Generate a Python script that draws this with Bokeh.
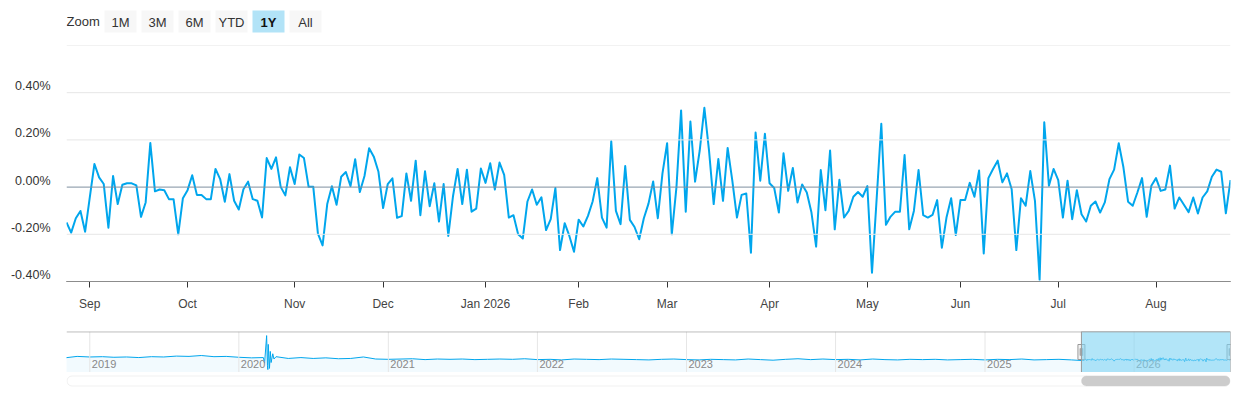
import numpy as np
import pandas as pd
from bokeh.plotting import figure
from bokeh.layouts import column
from bokeh.models import (Range1d, FixedTicker, Span, Label, BoxAnnotation,
                          ColumnDataSource, LinearAxis, PrintfTickFormatter)
from bokeh.core.properties import value
from bokeh.embed import file_html
from bokeh.resources import INLINE

FONT = "Liberation Sans"
LINE_COLOR = "#00a6ed"

# ------------------------------------------------------------------ data
month_labels = ["Sep", "Oct", "Nov", "Dec", "Jan 2026", "Feb", "Mar", "Apr",
                "May", "Jun", "Jul", "Aug"]
# trading days per month: late Aug 2025, Sep ... Jul, Aug 2026
points_per_month = [5, 21, 23, 19, 22, 20, 19, 22, 21, 20, 21, 21, 17]

daily_change = [
    -0.150, -0.193, -0.132, -0.101, -0.189, -0.044, 0.098, 0.041, 0.013, -0.172,
    0.047, -0.072, 0.010, 0.016, 0.016, 0.007, -0.126, -0.065, 0.187, -0.018,
    -0.010, -0.013, -0.051, -0.052, -0.200, -0.047, -0.013, 0.050, -0.033, -0.033,
    -0.051, -0.051, 0.077, 0.034, -0.062, 0.055, -0.058, -0.095, -0.009, 0.023,
    -0.051, -0.058,
    -0.129, 0.123, 0.077, 0.126, 0.001, -0.035, 0.084, 0.013, 0.138, 0.123,
    0.001, 0.001, -0.197, -0.247, -0.072, 0.004, -0.075, 0.044, 0.064, 0.004,
    0.118, -0.021, 0.047, 0.165, 0.129, 0.065, -0.089, 0.013, 0.037, -0.130,
    -0.123, 0.058, -0.058, 0.112, -0.119, 0.067, -0.081, 0.016, -0.146, 0.013,
    -0.207, -0.040,
    0.077, -0.072, 0.074, -0.104, -0.091, 0.079, 0.018, 0.101, -0.010, 0.104,
    0.052, -0.129, -0.119, -0.200, -0.218, -0.061, -0.010, -0.075, -0.043, -0.182,
    -0.136, -0.004, -0.267, -0.153, -0.207, -0.274, -0.138, -0.167, -0.122, -0.061,
    0.038, -0.129, -0.172, 0.194, -0.101, -0.157, 0.089, -0.139, -0.169, -0.221,
    -0.132, -0.070,
    0.024, -0.132, 0.058, 0.186, -0.200, -0.001, 0.325, -0.104, 0.278, 0.023,
    0.155, 0.336, 0.155, -0.072, 0.119, -0.058, 0.166, 0.027, -0.129, -0.033,
    -0.027, -0.278, 0.231, 0.027, 0.226, 0.016, -0.004, -0.108, 0.143, -0.016,
    0.081, -0.065, 0.011, -0.023, -0.108, -0.252, 0.072, -0.098, 0.155, -0.179,
    0.031, -0.129,
    -0.101, -0.041, -0.021, -0.041, 0.004, -0.363, -0.050, 0.268, -0.160, -0.125,
    -0.104, -0.104, 0.136, -0.179, -0.101, 0.072, -0.119, -0.129, -0.118, -0.055,
    -0.257, -0.129, -0.047, -0.203, -0.055, -0.055, 0.018, -0.041, 0.070, -0.281,
    0.038, 0.077, 0.112, 0.020, 0.058, -0.009, -0.267, -0.047, -0.079, 0.068,
    -0.058, -0.392,
    0.275, 0.006, 0.077, 0.030, -0.129, 0.027, -0.136, -0.013, -0.115, -0.146,
    -0.079, -0.061, -0.108, -0.065, 0.034, 0.074, 0.186, 0.084, -0.062, -0.079,
    -0.023, 0.038, -0.126, 0.006, 0.038, -0.016, -0.010, 0.091, -0.091, -0.044,
    -0.075, -0.106, -0.044, -0.112, -0.044, -0.018, 0.044, 0.074, 0.065, -0.111,
    0.030,
]

y_tick_values = [-0.4, -0.2, 0.0, 0.2, 0.4]
y_grid_values = [-0.4, -0.2, 0.2, 0.4, 0.6]
y_min, y_max = -0.4, 0.6

zoom_buttons = ["1M", "3M", "6M", "YTD", "1Y", "All"]
selected_button = "1Y"

# navigator (whole history): monthly readings Nov 2018 .. Aug 2025
nav_first_month = "2018-11-01"
nav_monthly_values = [
    0.30, 0.55,
    0.45, 0.50, 0.40, 0.45, 0.35, 0.50, 0.45, 0.60, 0.55, 0.70, 0.50, 0.55,
    0.40, 0.30, 0.35, 0.50, 0.20, 0.35, 0.20, 0.30, 0.15, 0.20, 0.45, 0.10,
    0.05, 0.10, 0.15, 0.00, 0.10, 0.05, 0.10, 0.00, 0.05, 0.10, 0.05, 0.15,
    0.00, 0.05, -0.05, 0.10, 0.05, 0.00, 0.10, 0.05, 0.00, -0.05, 0.05, 0.10,
    0.00, -0.05, 0.05, 0.00, -0.05, 0.10, 0.00, -0.10, 0.05, 0.15, 0.00, 0.10,
    0.00, 0.05, -0.05, 0.10, 0.00, -0.05, 0.05, 0.00, 0.05, -0.05, 0.00, 0.05,
    -0.05, 0.05, 0.00, 0.10, -0.05, 0.00, 0.05, -0.05,
]
spike_dates = ["2020-03-04", "2020-03-09", "2020-03-11", "2020-03-12", "2020-03-13",
               "2020-03-16", "2020-03-18", "2020-03-20", "2020-03-24", "2020-03-27"]
spike_values = [-0.6, 4.1, -1.0, -1.7, 2.6, -1.5, 1.4, -0.5, 1.0, 0.1]
nav_start, nav_end = "2018-11-05", "2026-08-25"
selection_start, selection_end = "2025-08-25", "2026-08-25"
nav_years = [2019, 2020, 2021, 2022, 2023, 2024, 2025, 2026]
nav_y_min, nav_y_max = -2.2, 4.8

# ------------------------------------------------------------------ layout constants
W = 1240
FRAME_L, FRAME_R = 66, 10          # frame spans page x 66 .. 1230
PX0, PX1 = FRAME_L, W - FRAME_R
PLOT_W = PX1 - PX0


def ms(d):
    return pd.Timestamp(d).value / 1e6


def styled(f):
    f.outline_line_color = None
    f.background_fill_color = "white"
    f.border_fill_color = "white"
    f.xgrid.visible = False
    f.ygrid.visible = False
    return f


def base_fig(height, x_range, y_range, top=0, bottom=0):
    f = figure(width=W, height=height, x_range=x_range, y_range=y_range,
               toolbar_location=None, output_backend="svg",
               x_axis_location=None, y_axis_location=None,
               min_border_left=FRAME_L, min_border_right=FRAME_R,
               min_border_top=top, min_border_bottom=bottom)
    return styled(f)


# ------------------------------------------------------------------ range selector row
# x in page pixels (frame = 66..1230), y in page pixels (0 at top)
pa = base_fig(40, Range1d(PX0, PX1), Range1d(40, 0))
pa.text(x=[PX0], y=[21], text=["Zoom"], text_font=value(FONT),
        text_font_size="13px", text_color="#333333", text_align="left",
        text_baseline="middle")
bx, btxt, sx, stxt = [], [], [], []
for i, lab in enumerate(zoom_buttons):
    left = 104 + 37 * i
    sel = lab == selected_button
    pa.quad(left=[left], right=[left + 32], top=[10], bottom=[32],
            fill_color="#b2e3f7" if sel else "#f7f7f7", line_color=None)
    if sel:
        sx.append(left + 16); stxt.append(lab)
    else:
        bx.append(left + 16); btxt.append(lab)
pa.text(x=bx, y=[21.5] * len(bx), text=btxt, text_font=value(FONT),
        text_font_size="13px", text_color="#333333", text_align="center",
        text_baseline="middle")
pa.text(x=sx, y=[21.5] * len(sx), text=stxt, text_font=value(FONT),
        text_font_size="13px", text_font_style="bold", text_color="#111111",
        text_align="center", text_baseline="middle")

# ------------------------------------------------------------------ main chart
N = len(daily_change)
idx = np.arange(N)
tick_idx = [int(v) for v in np.cumsum(points_per_month)[:-1]]

p = figure(width=W, height=280, x_range=Range1d(0, N - 1),
           y_range=Range1d(y_min, y_max), toolbar_location=None,
           output_backend="svg", y_axis_location=None,
           min_border_left=FRAME_L, min_border_right=FRAME_R,
           min_border_top=5, min_border_bottom=39)
styled(p)

for g in y_grid_values:
    p.add_layout(Span(location=g, dimension="width", line_color="#e6e6e6",
                      line_width=1))
p.add_layout(Span(location=0, dimension="width", line_color="#7f8f9f",
                  line_width=1))

src = ColumnDataSource(dict(x=idx, y=daily_change))
p.line("x", "y", source=src, line_color=LINE_COLOR, line_width=2,
       line_join="round")

ax = p.xaxis[0]
ax.ticker = FixedTicker(ticks=tick_idx)
ax.major_label_overrides = {t: lab for t, lab in zip(tick_idx, month_labels)}
ax.axis_line_color = "#333333"
ax.axis_line_width = 1
ax.major_tick_line_color = "#333333"
ax.major_tick_out = 6
ax.major_tick_in = 0
ax.minor_tick_line_color = None
ax.major_label_standoff = 9
ax.major_label_text_font = FONT
ax.major_label_text_font_size = "12px"
ax.major_label_text_color = "#444444"

# y labels sit ~6px above their grid lines (Highcharts style): use a shifted range
shift = 6.5 / 236 * (y_max - y_min)
p.extra_y_ranges = {"labels": Range1d(y_min - shift, y_max - shift)}
yax = LinearAxis(y_range_name="labels", ticker=FixedTicker(ticks=y_tick_values),
                 formatter=PrintfTickFormatter(format="%.2f%%"))
yax.axis_line_color = None
yax.major_tick_line_color = None
yax.minor_tick_line_color = None
yax.major_tick_out = 0
yax.major_tick_in = 0
yax.major_label_standoff = 16
yax.major_label_text_font = FONT
yax.major_label_text_font_size = "12.5px"
yax.major_label_text_color = "#333333"
p.add_layout(yax, "left")

# ------------------------------------------------------------------ navigator
monthly_dates = pd.date_range(nav_first_month, periods=len(nav_monthly_values),
                              freq="MS")
main_dates = pd.to_datetime(np.linspace(ms(selection_start), ms(selection_end), N),
                            unit="ms")
nav_df = pd.concat([
    pd.DataFrame({"d": monthly_dates, "v": nav_monthly_values}),
    pd.DataFrame({"d": pd.to_datetime(spike_dates), "v": spike_values}),
    pd.DataFrame({"d": main_dates, "v": daily_change}),
]).sort_values("d")
nav_src = ColumnDataSource(dict(d=nav_df["d"].values, v=nav_df["v"].values))

pn = base_fig(52, Range1d(ms(nav_start), ms(nav_end)),
              Range1d(nav_y_min, nav_y_max), top=11, bottom=0)

for yr in nav_years:
    pn.add_layout(Span(location=ms(f"{yr}-01-01"), dimension="height",
                       line_color="#e6e6e6", line_width=1))

pn.varea(x="d", y1=nav_y_min, y2="v", source=nav_src, fill_color=LINE_COLOR,
         fill_alpha=0.05)
pn.line(x="d", y="v", source=nav_src, line_color=LINE_COLOR, line_width=1)

nav_h = nav_y_max - nav_y_min
label_y = nav_y_min + 8.5 / 41 * nav_h
for yr in nav_years:
    pn.add_layout(Label(x=ms(f"{yr}-01-01"), y=label_y, x_offset=2,
                        text=str(yr), text_align="left", text_baseline="middle",
                        text_font=FONT, text_font_size="11px",
                        text_color="#888888"))

pn.add_layout(BoxAnnotation(left=ms(selection_start), right=ms(selection_end),
                            fill_color="#7fd3f3", fill_alpha=0.6,
                            line_color="#999999", line_width=1, line_alpha=1.0))
pn.add_layout(Span(location=nav_y_max - 0.3 / 41 * nav_h, dimension="width",
                   line_color="#999999", line_width=1))

ms_per_px = (ms(nav_end) - ms(nav_start)) / PLOT_W
ymid = nav_y_min + 0.5 * nav_h
for s in (selection_start, selection_end):
    xs = ms(s)
    pn.rect(x=[xs], y=[ymid], width=7, height=15, width_units="screen",
            height_units="screen", fill_color="#f2f2f2", line_color="#999999",
            line_width=1)
    pn.rect(x=[xs - 1.2 * ms_per_px, xs + 1.2 * ms_per_px], y=[ymid, ymid],
            width=0.5, height=7, width_units="screen", height_units="screen",
            fill_color="#999999", line_color="#999999", line_width=0.6)

# ------------------------------------------------------------------ scrollbar
ps = base_fig(20, Range1d(PX0, PX1), Range1d(20, 0))
ps.add_layout(BoxAnnotation(left=PX0 + 0.5, right=PX1 - 0.5, top=3.5, bottom=13.5,
                            fill_color="white", fill_alpha=1.0,
                            line_color="#cccccc", line_width=1,
                            border_radius=5))
frac0 = (ms(selection_start) - ms(nav_start)) / (ms(nav_end) - ms(nav_start))
frac1 = (ms(selection_end) - ms(nav_start)) / (ms(nav_end) - ms(nav_start))
ps.add_layout(BoxAnnotation(left=PX0 + frac0 * PLOT_W, right=PX0 + frac1 * PLOT_W - 0.5,
                            top=3.5, bottom=13.5,
                            fill_color="#cccccc", fill_alpha=1.0,
                            line_color="#cccccc", line_width=1,
                            border_radius=5))

layout = column(pa, p, pn, ps, spacing=0)
open("out.html", "w").write(file_html(layout, INLINE))
